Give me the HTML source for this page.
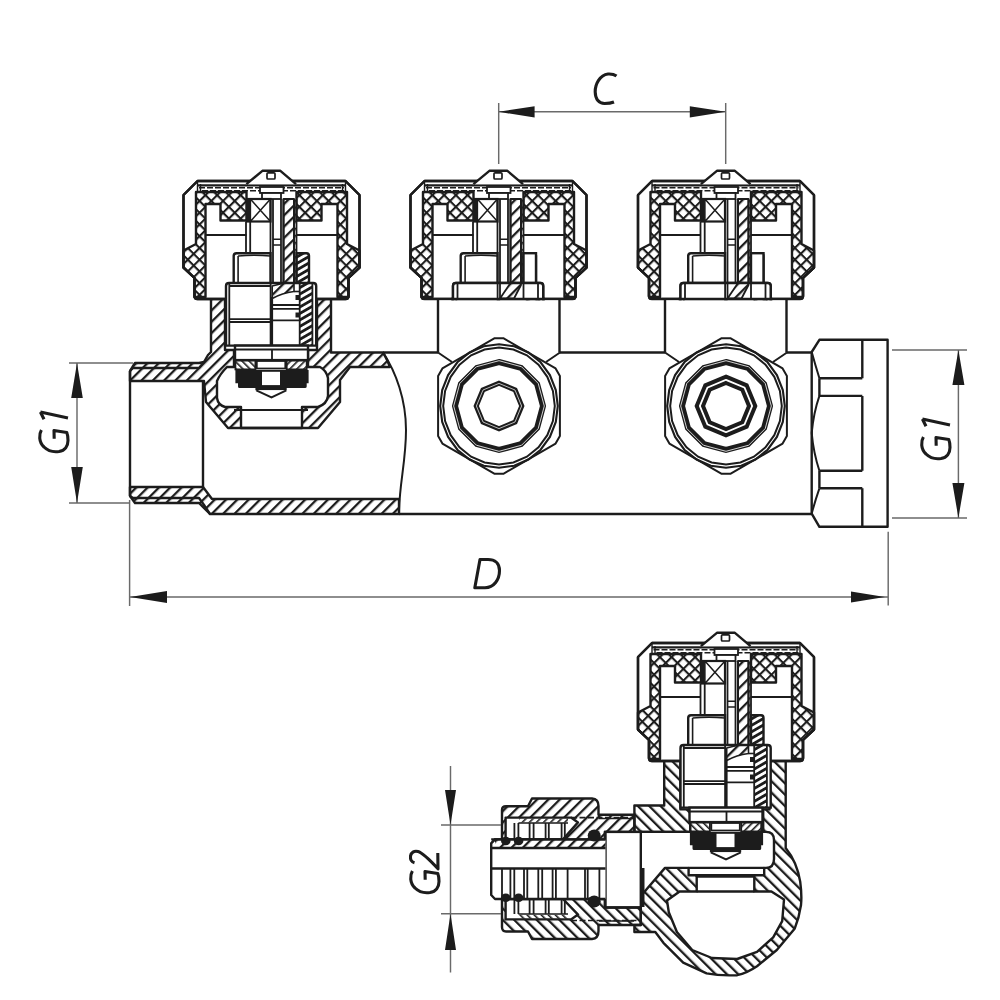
<!DOCTYPE html>
<html><head><meta charset="utf-8"><style>html,body{margin:0;padding:0;background:#fff;width:1000px;height:1000px;overflow:hidden}svg{display:block}</style></head>
<body><svg width="1000" height="1000" viewBox="0 0 1000 1000">
<defs>
<pattern id="hs" patternUnits="userSpaceOnUse" width="8" height="8" patternTransform="rotate(45)"><rect x="0" y="0" width="2.3" height="8" fill="#1c1c1c"/></pattern>
<pattern id="hb" patternUnits="userSpaceOnUse" width="8" height="8" patternTransform="rotate(-45)"><rect x="0" y="0" width="2.3" height="8" fill="#1c1c1c"/></pattern>
<pattern id="hsm" patternUnits="userSpaceOnUse" width="5" height="5" patternTransform="rotate(45)"><rect x="0" y="0" width="1.6" height="5" fill="#1c1c1c"/></pattern>
<pattern id="ho" patternUnits="userSpaceOnUse" width="5.6" height="5.6" patternTransform="rotate(60)"><rect x="0" y="0" width="2.8" height="5.6" fill="#1c1c1c"/></pattern>
<pattern id="hbm" patternUnits="userSpaceOnUse" width="5" height="5" patternTransform="rotate(-45)"><rect x="0" y="0" width="1.6" height="5" fill="#1c1c1c"/></pattern>
<pattern id="xh" patternUnits="userSpaceOnUse" width="8.3" height="8.3" patternTransform="rotate(45)"><rect x="0" y="0" width="2.1" height="8.3" fill="#1c1c1c"/><rect x="0" y="0" width="8.3" height="2.1" fill="#1c1c1c"/></pattern>
<clipPath id="capclip"><rect x="0" y="0" width="1000" height="300.6"/></clipPath>
</defs>
<rect width="1000" height="1000" fill="#fff"/><path d="M383,352.5 L438,352.5 M559.5,352.5 L665,352.5 M786.5,352.5 L811.7,352.5 M399,514 L811.7,514" stroke="#1c1c1c" stroke-width="2.4" fill="none"/>
<path d="M819.4,339.8 L887.6,339.8 L887.6,526.8 L819.4,526.8 L811.7,513.6 L811.7,352 Z" fill="#fff" stroke="#1c1c1c" stroke-width="2.4" stroke-linejoin="round"/>
<path d="M862.3,339.8 L862.3,378.3 M862.3,395.9 L862.3,470.7 M862.3,488.3 L862.3,526.8 M819.4,378.3 L862.3,378.3 M819.4,395.9 L862.3,395.9 M819.4,470.7 L862.3,470.7 M819.4,488.3 L862.3,488.3 M819.4,378.3 L819.4,395.9 M819.4,470.7 L819.4,488.3" stroke="#1c1c1c" stroke-width="2.4" fill="none"/>
<path d="M811.7,352 Q815,364 819.4,378.3 M819.4,395.9 Q813.5,413 811.7,433 Q813.5,453 819.4,470.7 M819.4,488.3 Q815,501 811.7,513.6" stroke="#1c1c1c" stroke-width="2" fill="none"/>
<path d="M130,371 L133,368 L199,368 L204,362 L208,355 L211,352 L211,298.8 L331,298.8 L331,352.5 L383,352.5 C386,357 388,362 390,367 L350,367 L340,380 L340,402 L318,428 L228,428 L206,402 L204,381 L130,381 Z M225,298.8 L225,350 L234,350 L234,367 L227,367 Q220,374 217,381 L217,398 Q218,405 225,407 L241,407 L241,428 L302,428 L302,407 L318,407 Q327,404 328,396 L328,378 Q326,370 320,367 L308,367 L308,350 L317,350 L317,298.8 Z" fill="url(#hs)" fill-rule="evenodd"/>
<path d="M331,298.8 L331,352.5 L383,352.5 C386,357 388,362 390,367 L350,367 L340,380 L340,402 L318,428 L228,428 L206,402 L204,381 L130,381 L130,371 L133,368 L199,368 L204,362 L208,355 L211,352 L211,298.8" fill="none" stroke="#1c1c1c" stroke-width="2.4" stroke-linejoin="round"/>
<path d="M225,298.8 L225,350 L234,350 L234,367 L227,367 Q220,374 217,381 L217,398 Q218,405 225,407 L241,407 L241,428 L302,428 L302,407 L318,407 Q327,404 328,396 L328,378 Q326,370 320,367 L308,367 L308,350 L317,350 L317,298.8" fill="none" stroke="#1c1c1c" stroke-width="2.4" stroke-linejoin="round"/>
<path d="M234,410 L308,410" stroke="#1c1c1c" stroke-width="1.8"/>
<path d="M130,496 L130,487 L203,487 L212,499 L399,499 L399,514 L210,514 L204,505 L199,498 L133,498 Z" fill="url(#hs)" stroke="#1c1c1c" stroke-width="2.4" stroke-linejoin="round"/>
<path d="M130,371 L135,363 L199,363 L204,362 M130,496 L135,503 L199,503 L210,514" stroke="#1c1c1c" stroke-width="2.4" fill="none" stroke-linejoin="round"/>
<path d="M130,371 L135,363 L199,363 L204,362 L199,368 L133,368 Z" fill="url(#hs)"/>
<path d="M130,496 L135,503 L199,503 L210,514 L204,505 L199,498 L133,498 Z" fill="url(#hs)"/>
<path d="M130,371 L130,496 M203,381 L203,487" stroke="#1c1c1c" stroke-width="2.4" fill="none"/>
<path d="M383,352.5 C396,372 406,400 406,430 C406,462 399,485 399,514" stroke="#1c1c1c" stroke-width="2" fill="none"/>
<g id="head1"><path d="M197.5,181 L345.5,181 L359.5,195 L359.5,267.6 L348.5,278 L348.5,296 Q348.5,299 345.5,299 L197.5,299 Q194.5,299 194.5,296 L194.5,278 L183.5,267.6 L183.5,195 Z" fill="#fff" stroke="#1c1c1c" stroke-width="2.4" stroke-linejoin="round"/>
<path d="M197.5,185.4 L345.5,185.4" stroke="#1c1c1c" stroke-width="2.4" fill="none"/>
<path d="M199,187.8 L344,187.8" stroke="#1c1c1c" stroke-width="1.6" stroke-dasharray="6 2" fill="none"/>
<path d="M202,190.8 L344,190.8" stroke="#1c1c1c" stroke-width="1.6" stroke-dasharray="6 2" fill="none"/>
<path d="M197.5,181 L197.5,192 M345.5,181 L345.5,192 M200.5,184 L200.5,192 M342.5,184 L342.5,192" stroke="#1c1c1c" stroke-width="1.4" fill="none"/>
<path d="M196,192 L246.5,192 L246.5,220.5 L220.5,220.5 L220.5,204 L205.5,204 L205.5,297 L194.5,297 L194.5,278 L183.5,267.6 L183.5,250.5 L196,244 Z" fill="url(#xh)" stroke="#1c1c1c" stroke-width="2.4" stroke-linejoin="round"/>
<path d="M347,192 L296.5,192 L296.5,220.5 L321.5,220.5 L321.5,204 L337.5,204 L337.5,297 L348.5,297 L348.5,278 L359.5,267.6 L359.5,250.5 L347,244 Z" fill="url(#xh)" stroke="#1c1c1c" stroke-width="2.4" stroke-linejoin="round"/>
<path d="M197.5,181 L345.5,181 L359.5,195 L359.5,267.6 L348.5,278 L348.5,296 Q348.5,299 345.5,299 L197.5,299 Q194.5,299 194.5,296 L194.5,278 L183.5,267.6 L183.5,195 Z" fill="none" stroke="#1c1c1c" stroke-width="2.4" stroke-linejoin="round"/>
<path d="M246.4,184.2 L262.4,170.8 L280.4,170.8 L296,184.2" fill="#fff" stroke="#1c1c1c" stroke-width="2.4" stroke-linejoin="round"/>
<rect x="267" y="172.8" width="8" height="6.2" rx="1" fill="#fff" stroke="#1c1c1c" stroke-width="1.7"/>
<path d="M205.5,235 L246.5,235 M296.5,235 L337.5,235" stroke="#1c1c1c" stroke-width="2" fill="none"/>
<rect x="260" y="187" width="23.5" height="6" fill="#fff" stroke="#1c1c1c" stroke-width="1.8"/>
<rect x="262" y="193" width="19" height="6" fill="#fff" stroke="#1c1c1c" stroke-width="1.8"/>
<rect x="247" y="199" width="23.5" height="22.5" fill="#fff" stroke="#1c1c1c" stroke-width="2.2"/>
<path d="M250.4,199 L250.4,221.5 M250.4,199 L270.5,221.5 M270.5,199 L250.4,221.5" stroke="#1c1c1c" stroke-width="1.5"/>
<rect x="247" y="199" width="3.4" height="22.5" fill="#1c1c1c"/>
<path d="M246,221.5 L246,253.2 M250.2,221.5 L250.2,253.2 M270.5,199 L270.5,283 M273,199 L273,297 M281,199 L281,283 M283.5,199 L283.5,283 M294,199 L294,298 M296.5,199 L296.5,298" stroke="#1c1c1c" stroke-width="1.8" fill="none"/>
<path d="M273,239.2 L281,239.2 M273,245 L281,245" stroke="#1c1c1c" stroke-width="1.6" fill="none"/>
<rect x="294.5" y="200" width="1.5" height="97" fill="url(#hsm)"/>
<path d="M283.5,199 L294,199 L294,285 L287,297.5 L273,297.5 L283.5,283 Z" fill="url(#hs)" stroke="#1c1c1c" stroke-width="2" stroke-linejoin="round"/>
<path d="M233.7,283 L233.7,256 Q233.7,253.2 236.5,253.2 L270.5,253.2 L270.5,283" fill="#fff" stroke="#1c1c1c" stroke-width="2.4"/>
<path d="M238.1,256 L238.1,283 M238.1,256 Q254,254.5 270.5,256" stroke="#1c1c1c" stroke-width="1.6" fill="none"/>
<path d="M296.5,283 L296.5,253.2 L306.5,253.2 Q309,253.2 309,256 L309,283" fill="url(#ho)" stroke="#1c1c1c" stroke-width="2.4"/>
<path d="M226,345.6 L226,286 Q226,283 229,283 L313.2,283 Q316.2,283 316.2,286 L316.2,345.6 Z" fill="#fff" stroke="#1c1c1c" stroke-width="2.4"/>
<rect x="299.7" y="284" width="12.7" height="61" fill="url(#ho)"/>
<path d="M229.3,283 L229.3,345.6 M270.6,283 L270.6,345.6 M272.2,297 L272.2,345.6 M299.7,283 L299.7,345.6 M312.4,283 L312.4,345.6 M229.3,286 L270.6,286" stroke="#1c1c1c" stroke-width="1.8"/>
<path d="M229.3,319.2 L270.6,319.2 M229.3,322 L270.6,322 M272.2,305 L299.7,305 M272.2,308.8 L299.7,308.8 M272.2,320.3 L299.7,320.3" stroke="#1c1c1c" stroke-width="1.8"/>
<path d="M294,291.5 L299.7,291.5" stroke="#1c1c1c" stroke-width="1.6" fill="none"/>
<path d="M272.2,286 L284.3,283 L294,283 L294,291.5 Q282,293 272.2,298.5 Z" fill="url(#hs)" stroke="#1c1c1c" stroke-width="1.6" stroke-linejoin="round"/>
<rect x="295.5" y="295" width="4" height="5" fill="#1c1c1c"/><rect x="295.5" y="312.5" width="4" height="5" fill="#1c1c1c"/>
<rect x="235" y="345.6" width="73" height="14.5" fill="#fff" stroke="#1c1c1c" stroke-width="2.4"/>
<path d="M235,349.5 L308,349.5 M272,349.5 L272,360" stroke="#1c1c1c" stroke-width="1.8"/>
<rect x="235.4" y="360.4" width="20" height="9" fill="url(#hbm)" stroke="#1c1c1c" stroke-width="1.8"/>
<rect x="286.7" y="360.4" width="20" height="9" fill="url(#hsm)" stroke="#1c1c1c" stroke-width="1.8"/>
<rect x="256.8" y="361" width="28.5" height="7.5" fill="#fff" stroke="#1c1c1c" stroke-width="1.8"/>
<path d="M235.4,370 L308.6,370 L308.6,383.2 L306.7,383.2 L306.7,386.5 Q306.7,388 305,388 L239.5,388 Q238,388 238,386.5 L238,383.2 L235.4,383.2 Z" fill="#1c1c1c"/>
<rect x="262" y="371.8" width="18" height="13.3" fill="#fff"/>
<rect x="255.4" y="387" width="31.3" height="3.3" fill="#1c1c1c"/>
<path d="M256.3,390.3 L271.5,397.5 L286.3,390.3" fill="#fff" stroke="#1c1c1c" stroke-width="2"/></g>
<g clip-path="url(#capclip)"><use href="#head1" transform="translate(227,0)"/><use href="#head1" transform="translate(454.5,0)"/></g>
<rect x="438" y="300.6" width="121.5" height="51.89999999999998" fill="#fff"/>
<path d="M438,298.8 L438,352.5 M559.5,298.8 L559.5,352.5" stroke="#1c1c1c" stroke-width="2.4"/>
<rect x="523.5" y="253.2" width="12.5" height="29.8" fill="#fff" stroke="#1c1c1c" stroke-width="2.4"/>
<g transform="translate(227,0)"><path d="M226,299.5 L226,286 Q226,283 229,283 L313.2,283 Q316.2,283 316.2,286 L316.2,299.5" fill="#fff" stroke="#1c1c1c" stroke-width="2.4"/><path d="M230.5,284 L230.5,299 M270.6,283 L270.6,299 M273,283 L273,299 M296.5,283 L296.5,299 M311,283 L311,299" stroke="#1c1c1c" stroke-width="1.8"/><path d="M283.5,283 L294,283 L294,285 L287,298.5 L273,298.5 Z" fill="url(#hs)" stroke="#1c1c1c" stroke-width="1.8" stroke-linejoin="round"/><path d="M224,299 L318,299" stroke="#1c1c1c" stroke-width="2.4"/></g>
<rect x="665" y="300.6" width="121.5" height="51.89999999999998" fill="#fff"/>
<path d="M665,298.8 L665,352.5 M786.5,298.8 L786.5,352.5" stroke="#1c1c1c" stroke-width="2.4"/>
<rect x="751.0" y="253.2" width="12.5" height="29.8" fill="#fff" stroke="#1c1c1c" stroke-width="2.4"/>
<g transform="translate(454.5,0)"><path d="M226,299.5 L226,286 Q226,283 229,283 L313.2,283 Q316.2,283 316.2,286 L316.2,299.5" fill="#fff" stroke="#1c1c1c" stroke-width="2.4"/><path d="M230.5,284 L230.5,299 M270.6,283 L270.6,299 M273,283 L273,299 M296.5,283 L296.5,299 M311,283 L311,299" stroke="#1c1c1c" stroke-width="1.8"/><path d="M283.5,283 L294,283 L294,285 L287,298.5 L273,298.5 Z" fill="url(#hs)" stroke="#1c1c1c" stroke-width="1.8" stroke-linejoin="round"/><path d="M224,299 L318,299" stroke="#1c1c1c" stroke-width="2.4"/></g>
<path d="M438,352.5 L452,362 M560,352.5 L546,362" stroke="#1c1c1c" stroke-width="2" fill="none"/>
<path d="M494.7,338.2 L503.3,338.2 L555.6,368.4 L559.9,375.9 L559.9,436.1 L555.6,443.6 L503.3,473.8 L494.7,473.8 L442.4,443.6 L438.1,436.1 L438.1,375.9 L442.4,368.4 Z" fill="#fff" stroke="#1c1c1c" stroke-width="2" stroke-linejoin="round"/>
<polygon points="499.0,344.2 514.2,346.3 528.4,352.5 540.6,362.3 549.9,375.1 555.8,390.0 557.8,406.0 555.8,422.0 549.9,436.9 540.6,449.7 528.4,459.5 514.2,465.7 499.0,467.8 483.8,465.7 469.6,459.5 457.4,449.7 448.1,436.9 442.2,422.0 440.2,406.0 442.2,390.0 448.1,375.1 457.4,362.3 469.6,352.5 483.8,346.3" fill="none" stroke="#1c1c1c" stroke-width="2.1"/>
<polygon points="499.0,347.5 513.4,349.5 526.9,355.3 538.5,364.6 547.3,376.8 552.9,390.9 554.8,406.0 552.9,421.1 547.3,435.2 538.5,447.4 526.9,456.7 513.4,462.5 499.0,464.5 484.6,462.5 471.1,456.7 459.5,447.4 450.7,435.2 445.1,421.1 443.2,406.0 445.1,390.9 450.7,376.8 459.5,364.6 471.1,355.3 484.6,349.5" fill="none" stroke="#1c1c1c" stroke-width="2"/>
<polygon points="499.0,362.0 521.0,367.9 537.1,384.0 543.0,406.0 537.1,428.0 521.0,444.1 499.0,450.0 477.0,444.1 460.9,428.0 455.0,406.0 460.9,384.0 477.0,367.9" fill="none" stroke="#1c1c1c" stroke-width="6"/>
<polygon points="499.0,360.7 521.6,366.8 538.2,383.4 544.3,406.0 538.2,428.6 521.6,445.2 499.0,451.3 476.4,445.2 459.8,428.6 453.7,406.0 459.8,383.4 476.3,366.8" fill="none" stroke="#fff" stroke-width="0.8"/>
<polygon points="499.0,383.2 515.1,389.9 521.8,406.0 515.1,422.1 499.0,428.8 482.9,422.1 476.2,406.0 482.9,389.9" fill="none" stroke="#1c1c1c" stroke-width="5"/>
<polygon points="499.0,383.4 515.0,390.0 521.6,406.0 515.0,422.0 499.0,428.6 483.0,422.0 476.4,406.0 483.0,390.0" fill="none" stroke="#fff" stroke-width="0.7"/>
<path d="M665,352.5 L679,362 M787,352.5 L773,362" stroke="#1c1c1c" stroke-width="2" fill="none"/>
<path d="M721.7,338.2 L730.3,338.2 L782.6,368.4 L786.9,375.9 L786.9,436.1 L782.6,443.6 L730.3,473.8 L721.7,473.8 L669.4,443.6 L665.1,436.1 L665.1,375.9 L669.4,368.4 Z" fill="#fff" stroke="#1c1c1c" stroke-width="2" stroke-linejoin="round"/>
<polygon points="726.0,344.2 741.2,346.3 755.4,352.5 767.6,362.3 776.9,375.1 782.8,390.0 784.8,406.0 782.8,422.0 776.9,436.9 767.6,449.7 755.4,459.5 741.2,465.7 726.0,467.8 710.8,465.7 696.6,459.5 684.4,449.7 675.1,436.9 669.2,422.0 667.2,406.0 669.2,390.0 675.1,375.1 684.4,362.3 696.6,352.5 710.8,346.3" fill="none" stroke="#1c1c1c" stroke-width="2.1"/>
<polygon points="726.0,347.5 740.4,349.5 753.9,355.3 765.5,364.6 774.3,376.8 779.9,390.9 781.8,406.0 779.9,421.1 774.3,435.2 765.5,447.4 753.9,456.7 740.4,462.5 726.0,464.5 711.6,462.5 698.1,456.7 686.5,447.4 677.7,435.2 672.1,421.1 670.2,406.0 672.1,390.9 677.7,376.8 686.5,364.6 698.1,355.3 711.6,349.5" fill="none" stroke="#1c1c1c" stroke-width="2"/>
<polygon points="726.0,362.0 748.0,367.9 764.1,384.0 770.0,406.0 764.1,428.0 748.0,444.1 726.0,450.0 704.0,444.1 687.9,428.0 682.0,406.0 687.9,384.0 704.0,367.9" fill="none" stroke="#1c1c1c" stroke-width="6"/>
<polygon points="726.0,360.7 748.6,366.8 765.2,383.4 771.3,406.0 765.2,428.6 748.6,445.2 726.0,451.3 703.4,445.2 686.8,428.6 680.7,406.0 686.8,383.4 703.4,366.8" fill="none" stroke="#fff" stroke-width="0.8"/>
<polygon points="726.0,376.7 746.7,385.3 755.3,406.0 746.7,426.7 726.0,435.3 705.3,426.7 696.7,406.0 705.3,385.3" fill="none" stroke="#1c1c1c" stroke-width="4"/>
<polygon points="726.0,383.0 742.3,389.7 749.0,406.0 742.3,422.3 726.0,429.0 709.7,422.3 703.0,406.0 709.7,389.7" fill="none" stroke="#1c1c1c" stroke-width="4"/>
<path d="M634.4,805.5 L664.2,805.5 L664.2,760.8 L680.4,760.8 L680.4,809.4 L690.3,809.4 L690.3,831.9 L634.4,831.9 Z" fill="url(#hb)" stroke="#1c1c1c" stroke-width="2.4" stroke-linejoin="round"/>
<path d="M769.5,760.8 L785.7,760.8 L785.7,848 Q797,862 800.2,881.6 Q802,895 801,905 Q799,918 794.8,928.4 L776.8,950 L757,966.2 Q747,973 737.2,975.2 Q720,976 706.6,973.4 L683.2,962.6 L663.4,942.8 L655.3,932 L634.4,932 L634.4,925 L640.8,925 L640.8,896 L665,867.9 L688.6,867.9 L688.6,875.3 L696.7,875.3 L696.7,891.5 L679.6,891.5 L667,900.5 L668.8,912.2 L676.9,932 L692.2,950 L712,958 L737.2,959 L757,951.8 L773.2,937.4 L782.2,921.2 L784,899.6 L771.4,891.5 L754.3,891.5 L754.3,875.3 L764.2,875.3 L764.2,867.9 L766,867.9 Q774,867.9 774,859 L774,840 Q774,831.9 766,831.9 L763.2,831.9 L763.2,809.4 L769.5,809.4 Z" fill="url(#hb)" stroke="#1c1c1c" stroke-width="2.4" stroke-linejoin="round"/>
<path d="M640.8,831.9 L690.3,831.9 M688.6,867.9 L764.2,867.9 M696.7,875.3 L754.3,875.3 M696.7,891.5 L754.3,891.5" stroke="#1c1c1c" stroke-width="2.4"/>
<path d="M696.7,876 L754.3,876" stroke="#1c1c1c" stroke-width="3.5"/>
<path d="M599,818.5 L634,818.5 M599,921 L634,921" stroke="#1c1c1c" stroke-width="1.5"/>
<rect x="605.5" y="831.9" width="35.3" height="75.6" fill="#fff" stroke="#1c1c1c" stroke-width="2.4"/>
<path d="M643,868 L643,907" stroke="#1c1c1c" stroke-width="3"/>
<path d="M502,839.4 L502,810 Q502,806.3 506,806.3 L528,806.3 L532,798.5 L592,798.5 Q598.5,799 598.5,806 L598.5,814.8 L634.4,814.8 L634.4,831.9 L604.8,831.9 L604.8,848 L495,848 L491.2,843.5 L495,839.4 Z M505.6,817.6 L571,817.6 L578,822.4 L563,839.4 L505.6,839.4 Z" fill="url(#hs)" fill-rule="evenodd" stroke="#1c1c1c" stroke-width="2.4" stroke-linejoin="round"/>
<path d="M502,899 L502,927 Q502,931.5 506,931.5 L528,931.5 L532,939 L592,939 Q598.5,938.5 598.5,931 L598.5,925 L640.8,925 L640.8,907.5 L604.8,907.5 L604.8,899 Z M505.6,919.4 L571,919.4 L578,914.6 L563,899 L505.6,899 Z" fill="url(#hb)" fill-rule="evenodd" stroke="#1c1c1c" stroke-width="2.4" stroke-linejoin="round"/>
<path d="M571,817.6 L634,817.6 M571,920.5 L640,920.5" stroke="#1c1c1c" stroke-width="1.6" stroke-dasharray="6 2.5"/>
<path d="M514.4,823 L514.4,839.4 M518.4,823 L518.4,839.4 M529.6,823 L529.6,839.4 M533.6,823 L533.6,839.4 M545.6,823 L545.6,839.4 M548.8,823 L548.8,839.4 M561.6,823 L561.6,839.4 M564.8,823 L564.8,839.4" stroke="#1c1c1c" stroke-width="1.8"/>
<path d="M514.4,899 L514.4,914 M518.4,899 L518.4,914 M529.6,899 L529.6,914 M533.6,899 L533.6,914 M545.6,899 L545.6,914 M548.8,899 L548.8,914 M561.6,899 L561.6,914 M564.8,899 L564.8,914" stroke="#1c1c1c" stroke-width="1.8"/>
<path d="M518.4,823 L568,823 M518.4,914 L568,914" stroke="#1c1c1c" stroke-width="1.6"/>
<rect x="519" y="818.5" width="49" height="4" fill="url(#hsm)"/>
<rect x="519" y="914.8" width="49" height="4" fill="url(#hbm)"/>
<path d="M605.5,839.4 L495,839.4 L491.2,843.5 L491.2,895 L495,899 L605.5,899" fill="#fff" stroke="#1c1c1c" stroke-width="2.4" stroke-linejoin="round"/>
<rect x="495" y="839.4" width="110.5" height="8.6" fill="url(#hs)"/>
<path d="M491.2,848 L605.5,848 M491.2,868.5 L605.5,868.5 M491.2,839.4 L605.5,839.4" stroke="#1c1c1c" stroke-width="2.4"/>
<path d="M502,868.5 L502,899 M510.4,868.5 L510.4,899 M514.3,868.5 L514.3,899 M524,868.5 L524,899 M527.3,868.5 L527.3,899 M538.3,868.5 L538.3,899 M542.2,868.5 L542.2,899 M552.6,868.5 L552.6,899 M555.9,868.5 L555.9,899 M567.6,868.5 L567.6,899 M585,868.5 L585,899 M587.7,868.5 L587.7,899 M599.4,868.5 L599.4,899" stroke="#1c1c1c" stroke-width="1.8"/>
<ellipse cx="594.2" cy="835.5" rx="6.5" ry="6" fill="#1c1c1c"/>
<ellipse cx="594.2" cy="901.6" rx="6.5" ry="6" fill="#1c1c1c"/>
<ellipse cx="505.8" cy="841" rx="4.8" ry="4.2" fill="#1c1c1c"/>
<ellipse cx="518.6" cy="841" rx="4.8" ry="4.2" fill="#1c1c1c"/>
<ellipse cx="505.8" cy="897.7" rx="4.8" ry="4.2" fill="#1c1c1c"/>
<ellipse cx="518.6" cy="897.7" rx="4.8" ry="4.2" fill="#1c1c1c"/>
<use href="#head1" transform="translate(454.5,462)"/>
<path d="M498.7,103 L498.7,164 M725.7,103 L725.7,164 M498.7,111.8 L725.7,111.8" stroke="#6a6a6a" stroke-width="1.45"/>
<path d="M498.7,111.8 L534.6,106.2 L534.6,117.6 Z M725.7,111.8 L689.8,106.2 L689.8,117.6 Z" fill="#1c1c1c"/>
<path d="M129.6,500 L129.6,606 M888.2,531.8 L888.2,605.6 M129.6,597 L888.2,597" stroke="#6a6a6a" stroke-width="1.45"/>
<path d="M130,597 L167,591 L167,603 Z M885,597 L851,591.5 L851,602.5 Z" fill="#1c1c1c"/>
<path d="M69,363 L133,363 M69,503 L130,503 M77,363 L77,503" stroke="#6a6a6a" stroke-width="1.45"/>
<path d="M77,363 L71.2,398 L82.8,398 Z M77,503 L71.2,467 L82.8,467 Z" fill="#1c1c1c"/>
<path d="M892,350 L967,350 M892,518 L967,518 M958.4,350 L958.4,518" stroke="#6a6a6a" stroke-width="1.45"/>
<path d="M958.4,350 L952.4,385 L964.4,385 Z M958.4,518 L952.4,483 L964.4,483 Z" fill="#1c1c1c"/>
<path d="M450.5,766 L450.5,972.5 M441,825 L501,825 M441,913.75 L501,913.75" stroke="#6a6a6a" stroke-width="1.45"/>
<path d="M450.5,825 L445,790 L456,790 Z M450.5,913.75 L445,950 L456,950 Z" fill="#1c1c1c"/>
<path transform="translate(594,104)" d="M22.5,-28 C20,-29.8 17,-30.2 14,-30 C6,-29 1,-20 1.2,-12 C1.4,-4.5 5,-0.5 10.5,-0.5 C14,-0.5 17.5,-1 20,-2" fill="none" stroke="#1c1c1c" stroke-width="3.1" stroke-linejoin="round"/>
<path transform="translate(474,588.5)" d="M6,-29 L0.8,-0.8 L11,-0.8 C20,-0.8 25.5,-9 25.5,-18 C25.5,-25 21,-29 14,-29 Z" fill="none" stroke="#1c1c1c" stroke-width="3.1" stroke-linejoin="round"/>
<path transform="translate(69,453) rotate(-90)" d="M23,-27.6 C19,-30 11,-30.5 6,-25 C2,-21 0.8,-15 1.5,-10 C2.5,-4 7,-1 12.5,-1 C16,-1 19,-1.6 20.5,-2.2 L22.5,-15 L14.2,-14.8 M41,-28.6 L35,-1 M41,-28.6 L33.8,-25" fill="none" stroke="#1c1c1c" stroke-width="3.1" stroke-linejoin="round"/>
<path transform="translate(951,460) rotate(-90)" d="M23,-27.6 C19,-30 11,-30.5 6,-25 C2,-21 0.8,-15 1.5,-10 C2.5,-4 7,-1 12.5,-1 C16,-1 19,-1.6 20.5,-2.2 L22.5,-15 L14.2,-14.8 M41,-28.6 L35,-1 M41,-28.6 L33.8,-25" fill="none" stroke="#1c1c1c" stroke-width="3.1" stroke-linejoin="round"/>
<path transform="translate(440,894) rotate(-90)" d="M23,-27.6 C19,-30 11,-30.5 6,-25 C2,-21 0.8,-15 1.5,-10 C2.5,-4 7,-1 12.5,-1 C16,-1 19,-1.6 20.5,-2.2 L22.5,-15 L14.2,-14.8 M31.2,-25.5 C32,-28.5 35,-29.8 38,-29.5 C41.5,-29 43.5,-26 42.5,-22 C41.5,-18 36,-12 25.2,-2 L41.1,-2.2" fill="none" stroke="#1c1c1c" stroke-width="3.1" stroke-linejoin="round"/></svg></body></html>
